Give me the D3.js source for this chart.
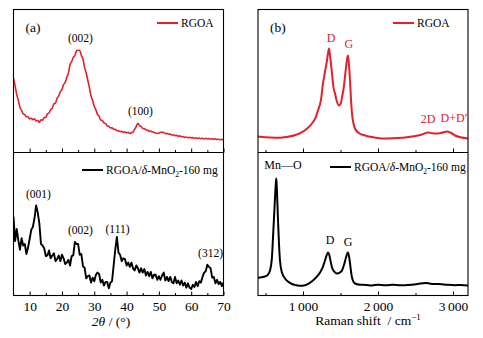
<!DOCTYPE html>
<html>
<head>
<meta charset="utf-8">
<script src="https://cdn.jsdelivr.net/npm/d3@7"></script>
<style>
  body { margin: 0; background: #fff; }
  text { font-family: "Liberation Serif", "Times New Roman", serif; fill: #000; }
</style>
</head>
<body>
<svg id="chart"></svg>
<script>
// ---- data ----
const xrdAngles = [
  5, 5.5, 6, 6.5, 7, 7.5, 8, 8.5, 9, 9.5, 10, 10.5, 11, 11.5, 12, 12.5, 13, 13.5, 14, 14.5,
  15, 15.5, 16, 16.5, 17, 17.5, 18, 18.5, 19, 19.5, 20, 20.5, 21, 21.5, 22, 22.5, 23, 23.5, 24, 24.5,
  25, 25.5, 26, 26.5, 27, 27.5, 28, 28.5, 29, 29.5, 30, 30.5, 31, 31.5, 32, 32.5, 33, 33.5, 34, 34.5,
  35, 35.5, 36, 36.5, 37, 37.5, 38, 38.5, 39, 39.5, 40, 40.5, 41, 41.5, 42, 42.5, 43, 43.5, 44, 44.5,
  45, 45.5, 46, 46.5, 47, 47.5, 48, 48.5, 49, 49.5, 50, 50.5, 51, 51.5, 52, 52.5, 53, 53.5, 54, 54.5,
  55, 55.5, 56, 56.5, 57, 57.5, 58, 58.5, 59, 59.5, 60, 60.5, 61, 61.5, 62, 62.5, 63, 63.5, 64, 64.5,
  65, 65.5, 66, 66.5, 67, 67.5, 68, 68.5, 69, 69.5, 70
];
const xrdRgoa = [
  52, 46.5, 40.5, 36.5, 31.5, 29.5, 27, 26.5, 25, 25, 23.5, 24, 23, 23.5, 22, 22.5, 21, 22.8, 22.6, 24.5,
  24.6, 27, 27.6, 30, 31, 34, 34.6, 38, 39.5, 42.5, 44, 47.5, 49, 52.5, 55.5, 61.5, 63.5, 66.5, 68, 71,
  71.5, 71.3, 68, 65.3, 59.5, 55.8, 50.5, 45.3, 39.6, 36.3, 32.1, 29.8, 26.6, 25.3, 22.7, 22.3, 20.7, 20.3, 18.7, 18.3,
  17.2, 17.3, 16.2, 16.3, 15.2, 15.3, 14.5, 14.8, 14, 14.5, 13.7, 14.1, 13.3, 13.8, 14.3, 16.2, 18.3, 20.5, 18.8, 18.2,
  16.8, 16.7, 15.8, 15.7, 14.8, 15, 14.3, 14.2, 13.5, 13.5, 13.4, 14.2, 14.1, 14, 13.2, 13.4, 12.8, 12.9, 12.2, 12.4,
  11.8, 12, 11.4, 11.6, 11, 11.2, 10.6, 10.8, 10.3, 10.6, 10.1, 10.4, 9.9, 10.2, 9.8, 10.1, 9.6, 10, 9.5, 9.9,
  9.4, 9.7, 9.3, 9.6, 9.2, 9.5, 9.1, 9.3, 8.9, 9.2, 8.8
];
const xrdComposite = [
  55, 38, 46.5, 38.5, 32, 40, 35, 36, 29, 33.5, 39.5, 46, 48, 54, 63, 58, 50.5, 36, 35, 33,
  27.5, 28, 31.5, 26, 28, 29.5, 24, 25.5, 28, 24, 28.5, 26, 22, 23, 25, 21, 27.5, 28, 37.5, 36,
  36, 28.5, 29, 20.5, 19.5, 12, 13.5, 14, 9, 12.5, 10, 14.5, 16, 15, 9, 11, 7, 9.5, 9.5, 5,
  9, 10, 21, 32, 41, 30, 28.5, 24, 26, 25.5, 21, 23, 20, 23, 19, 17.5, 21, 19, 16, 19,
  16, 18.5, 14, 16.5, 13.5, 16.5, 12, 14.5, 14.5, 11, 13.5, 11, 14, 16, 10.5, 13, 10, 13, 9.5, 8.5,
  13, 8.5, 10.5, 7.5, 10.5, 7, 9, 5.5, 8.5, 5.5, 4.5, 7.5, 6, 9.5, 6.5, 10, 9, 13, 16, 17,
  21.5, 20, 19, 12.5, 13, 8.5, 11, 8, 9.5, 6.5, 9
];
const xrdTicks = [10, 20, 30, 40, 50, 60, 70];
const xrdMinorTicks = [15, 25, 35, 45, 55, 65];

const ramanShiftRgoa = [
  400, 500, 627, 700, 800, 900, 987, 1060, 1120, 1170, 1200, 1240, 1267, 1295, 1320, 1335, 1347, 1360, 1375, 1387,
  1405, 1427, 1450, 1480, 1505, 1520, 1545, 1573, 1590, 1600, 1612, 1627, 1640, 1653, 1670, 1693, 1750, 1827, 1950, 2053,
  2200, 2360, 2480, 2587, 2667, 2720, 2787, 2850, 2920, 2970, 3027, 3100, 3200
];
const ramanRgoa = [
  11.2, 10.6, 10.3, 10.4, 11, 12.2, 14.2, 17, 20.3, 24.5, 29.4, 37, 48.3, 57, 64.3, 70, 72.7, 68, 61, 55,
  46, 41.3, 36, 32.9, 34.5, 38.5, 46, 59.4, 66, 67.8, 62, 50.3, 37, 27.3, 21, 16.8, 13.5, 11.9, 10.5, 9.8,
  10, 10.5, 11.3, 12.6, 14, 13.5, 13.3, 13.8, 14.7, 13.8, 11.9, 10.6, 9.8
];
const ramanShiftComposite = [
  400, 450, 493, 530, 560, 585, 600, 615, 627, 637, 644, 652, 667, 680, 693, 720, 760, 820, 893, 960,
  1027, 1080, 1133, 1190, 1227, 1265, 1293, 1315, 1333, 1350, 1370, 1387, 1420, 1453, 1490, 1520, 1550, 1573, 1600, 1615,
  1627, 1640, 1653, 1693, 1760, 1840, 1920, 2000, 2100, 2200, 2300, 2360, 2450, 2530, 2627, 2700, 2800, 2900, 3027, 3100,
  3200
];
const ramanComposite = [
  12.4, 12.8, 13.3, 14.5, 17.5, 26, 40.6, 56, 68.5, 78, 81.8, 74, 52.4, 36, 24.5, 16, 11.9, 9, 7.3, 6.8,
  7.2, 8.5, 10.5, 13.5, 16.1, 20, 24.5, 28, 30, 28.5, 23.5, 19.6, 16.5, 15.4, 16, 17.5, 22, 26.6, 30, 27,
  22.4, 17, 12.6, 8.4, 7.5, 7.4, 7, 7.6, 7.2, 7.5, 7.1, 7.2, 7.6, 8.1, 8.8, 8.3, 8, 7.6, 7.2, 7.4,
  7
];
const ramanTicks = [1000, 2000, 3000];
const ramanMinorTicks = [500, 1500, 2500];

// peak labels: [text, x value, intensity of baseline]
const xrdRgoaPeaks = [["(002)", 25.7, 77.6], ["(100)", 44.3, 25.9]];
const xrdCompositePeaks = [["(001)", 12.7, 68], ["(002)", 25.7, 42.7], ["(111)", 37.2, 43.5], ["(312)", 66, 26.6]];
const ramanRgoaPeaks = [["D", 1375, 77], ["G", 1610, 73.4], ["2D", 2667, 20.3], ["D+D\u2032", 3013, 21]];
const ramanCompositePeaks = [["Mn\u2014O", 733, 88.8], ["D", 1360, 35.7], ["G", 1600, 34.3]];

// ---- layout ----
const W = 483, H = 338;
const RED = "#e3202b";
const plotTop = 9.5, plotMid = 152.5, plotBottom = 295.5;

const svg = d3.select("#chart").attr("width", W).attr("height", H);
svg.append("rect").attr("width", W).attr("height", H).attr("fill", "#fff");

const yTop = d3.scaleLinear().domain([0, 100]).range([plotMid, plotTop]);
const yBottom = d3.scaleLinear().domain([0, 100]).range([plotBottom, plotMid]);

function drawPanel(opts) {
  const x = d3.scaleLinear().domain(opts.domain).range([opts.left, opts.right]);
  const g = svg.append("g");
  const clipId = "clip-" + opts.name;
  svg.append("defs").append("clipPath").attr("id", clipId)
    .append("rect").attr("x", opts.left).attr("y", plotTop)
    .attr("width", opts.right - opts.left).attr("height", plotBottom - plotTop);

  // ticks on both sub-panel bottoms
  [[plotMid, false], [plotBottom, true]].forEach(([yPos, labels]) => {
    const major = d3.axisBottom(x).tickValues(opts.ticks).tickSizeInner(-4).tickSizeOuter(0).tickPadding(6)
      .tickFormat(labels ? opts.format : "");
    const ax = g.append("g").attr("transform", `translate(0,${yPos})`).call(major);
    ax.select(".domain").remove();
    ax.selectAll("text").attr("font-size", 13.5).attr("fill", "#000")
      .style("font-family", '"Liberation Serif", serif');
    ax.selectAll("line").attr("stroke", "#000");
    const minor = d3.axisBottom(x).tickValues(opts.minor).tickSizeInner(-2.5).tickSizeOuter(0).tickFormat("");
    const mx = g.append("g").attr("transform", `translate(0,${yPos})`).call(minor);
    mx.select(".domain").remove();
    mx.selectAll("line").attr("stroke", "#000");
  });

  const curves = g.append("g").attr("clip-path", `url(#${clipId})`);
  opts.series.forEach(s => {
    const line = d3.line()
      .x((d, i) => x(s.xs[i]))
      .y(d => s.y(d))
      .curve(s.curve);
    curves.append("path").datum(s.values)
      .attr("fill", "none").attr("stroke", s.color).attr("stroke-width", s.width)
      .attr("stroke-linejoin", "round").attr("d", line);

    s.peaks.forEach(([label, px, py]) => {
      g.append("text").attr("x", x(px)).attr("y", s.y(py))
        .attr("text-anchor", "middle").attr("font-size", s.peakSize)
        .style("fill", s.peakColor).text(label);
    });
  });

  // frame and divider
  g.append("rect").attr("x", opts.left).attr("y", plotTop)
    .attr("width", opts.right - opts.left).attr("height", plotBottom - plotTop)
    .attr("fill", "none").attr("stroke", "#000").attr("stroke-width", 1.1);
  g.append("line").attr("x1", opts.left).attr("x2", opts.right).attr("y1", plotMid).attr("y2", plotMid)
    .attr("stroke", "#000").attr("stroke-width", 1.1);

  // panel letter
  g.append("text").attr("x", opts.left + 12).attr("y", 32).attr("font-size", 13.5).text(opts.letter);

  return { x, g };
}

function legend(g, x1, y, color, build) {
  g.append("line").attr("x1", x1).attr("x2", x1 + 21).attr("y1", y).attr("y2", y)
    .attr("stroke", color).attr("stroke-width", 2);
  const t = g.append("text").attr("x", x1 + 24).attr("y", y + 4).attr("font-size", 11.5);
  build(t);
}

function compositeLabel(t) {
  t.append("tspan").text("RGOA/");
  t.append("tspan").attr("font-style", "italic").text("\u03b4");
  t.append("tspan").text("-MnO");
  t.append("tspan").attr("font-size", 7.5).attr("dy", 3).text("2");
  t.append("tspan").attr("dy", -3).text("-160 mg");
}

// (a) XRD
const a = drawPanel({
  name: "a", letter: "(a)", left: 13.5, right: 223.5, domain: [5, 70],
  ticks: xrdTicks, minor: xrdMinorTicks, format: d3.format("d"),
  series: [
    { xs: xrdAngles, values: xrdRgoa, y: yTop, color: RED, width: 1.6, curve: d3.curveMonotoneX,
      peaks: xrdRgoaPeaks, peakSize: 11.5, peakColor: "#000" },
    { xs: xrdAngles, values: xrdComposite, y: yBottom, color: "#000", width: 1.9, curve: d3.curveLinear,
      peaks: xrdCompositePeaks, peakSize: 11.5, peakColor: "#000" }
  ]
});
legend(a.g, 157, 23, RED, t => t.text("RGOA"));
legend(a.g, 82, 170, "#000", compositeLabel);
const xlabA = a.g.append("text").attr("x", 111).attr("y", 326).attr("text-anchor", "middle").attr("font-size", 13.5);
xlabA.append("tspan").attr("font-style", "italic").text("2\u03b8");
xlabA.append("tspan").text(" / (\u00b0)");

// (b) Raman
const b = drawPanel({
  name: "b", letter: "(b)", left: 258, right: 468, domain: [400, 3200],
  ticks: ramanTicks, minor: ramanMinorTicks, format: d => `${d / 1000}\u2009000`,
  series: [
    { xs: ramanShiftRgoa, values: ramanRgoa, y: yTop, color: RED, width: 2, curve: d3.curveMonotoneX,
      peaks: ramanRgoaPeaks, peakSize: 12, peakColor: RED },
    { xs: ramanShiftComposite, values: ramanComposite, y: yBottom, color: "#000", width: 2, curve: d3.curveMonotoneX,
      peaks: ramanCompositePeaks, peakSize: 12, peakColor: "#000" }
  ]
});
legend(b.g, 393, 23, RED, t => t.text("RGOA"));
legend(b.g, 330, 167, "#000", compositeLabel);
const xlabB = b.g.append("text").attr("x", 368).attr("y", 325).attr("text-anchor", "middle").attr("font-size", 13.5);
xlabB.append("tspan").text("Raman shift\u2002/ cm");
xlabB.append("tspan").attr("font-size", 9).attr("dy", -5).text("\u22121");
</script>
</body>
</html>
